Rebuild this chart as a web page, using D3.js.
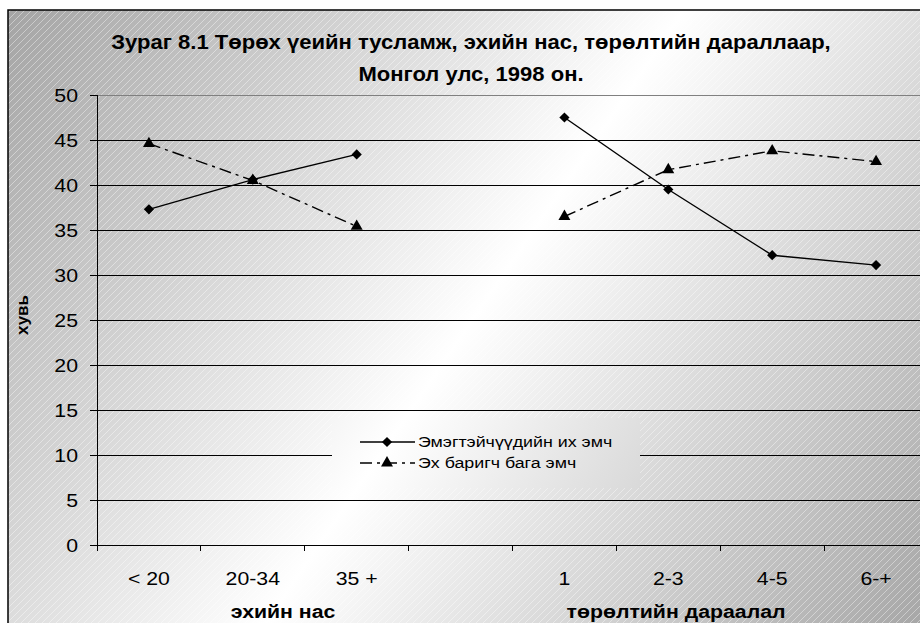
<!DOCTYPE html>
<html lang="mn">
<head>
<meta charset="UTF-8">
<title>Зураг 8.1</title>
<script src="https://cdnjs.cloudflare.com/ajax/libs/d3/7.8.5/d3.min.js"></script>
<style>
  body { margin: 0; background: #fff; }
  svg { display: block; font-family: Arial, "Liberation Sans", sans-serif; }
</style>
</head>
<body>
<div id="chart"></div>
<script>
// categories on the x axis ("" is the empty gap between the two groups)
const categories = ["< 20", "20-34", "35 +", "", "1", "2-3", "4-5", "6-+"];
// percentage values per category, null = no point
const specialistValues = [37.3, 40.6, 43.4, null, 47.5, 39.5, 32.2, 31.1];
const midwifeValues    = [44.6, 40.5, 35.4, null, 36.5, 41.7, 43.8, 42.6];
const seriesNames = ["Эмэгтэйчүүдийн их эмч", "Эх баригч бага эмч"];
const yTicks = [0, 5, 10, 15, 20, 25, 30, 35, 40, 45, 50];
const groupTitles = ["эхийн нас", "төрөлтийн дараалал"];
const titleLines = ["Зураг 8.1 Төрөх үеийн тусламж, эхийн нас, төрөлтийн дараллаар,",
                    "Монгол улс, 1998 он."];
const yTitle = "хувь";

const W = 920, H = 623;
const plot = { left: 97, right: 928, top: 95, bottom: 545 };
const sx = 1.12; // text in the picture is a little wider than the font

const svg = d3.select("#chart").append("svg")
    .attr("width", W).attr("height", H);

const defs = svg.append("defs");
const grad = defs.append("linearGradient")
    .attr("id", "bg")
    .attr("gradientUnits", "userSpaceOnUse")
    .attr("x1", 8).attr("y1", 10).attr("x2", 930).attr("y2", 640);
grad.append("stop").attr("offset", "0").attr("stop-color", "#a4a4a4");
grad.append("stop").attr("offset", "0.5").attr("stop-color", "#ffffff");
grad.append("stop").attr("offset", "1").attr("stop-color", "#a4a4a4");

const hatch = defs.append("pattern")
    .attr("id", "hatch")
    .attr("patternUnits", "userSpaceOnUse")
    .attr("width", 7).attr("height", 7);
hatch.append("path")
    .attr("d", "M-1,1 L1,-1 M0,7 L7,0 M6,8 L8,6")
    .attr("stroke", "#ffffff").attr("stroke-opacity", 0.4).attr("stroke-width", 1);

// chart frame
svg.append("rect")
    .attr("x", 8).attr("y", 10).attr("width", 930).attr("height", 640)
    .attr("fill", "url(#bg)");
svg.append("rect")
    .attr("x", 8).attr("y", 10).attr("width", 930).attr("height", 640)
    .attr("fill", "url(#hatch)")
    .attr("stroke", "#000").attr("stroke-width", 1.5);

const x = d3.scaleBand().domain(categories).range([plot.left, plot.right]);
const y = d3.scaleLinear().domain([0, 50]).range([plot.bottom, plot.top]);
const cx = c => x(c) + x.bandwidth() / 2;

function label(g, tx, ty, text, k = sx) {
    return g.append("text")
        .attr("transform", `translate(${tx},${ty}) scale(${k},1)`)
        .text(text);
}

// gridlines
svg.append("g").selectAll("line")
    .data(yTicks.filter(d => d > 0))
    .join("line")
    .attr("x1", plot.left).attr("x2", plot.right)
    .attr("y1", d => y(d)).attr("y2", d => y(d))
    .attr("stroke", d => d === 50 ? "#808080" : "#000")
    .attr("stroke-width", 1)
    .attr("shape-rendering", "crispEdges");

// y axis
const yAxis = svg.append("g")
    .attr("transform", `translate(${plot.left},0)`)
    .call(d3.axisLeft(y).tickValues(yTicks).tickSize(7).tickFormat(""));
yAxis.selectAll("path, line").attr("stroke", "#000").attr("shape-rendering", "crispEdges");
const yLabels = svg.append("g")
    .attr("font-size", 19).attr("text-anchor", "end").attr("fill", "#000");
yTicks.forEach(t => label(yLabels, 78, y(t) + 6.8, t));

// x axis: line and ticks at the category boundaries
const xAxis = svg.append("g");
xAxis.append("line")
    .attr("x1", plot.left).attr("x2", plot.right)
    .attr("y1", plot.bottom).attr("y2", plot.bottom)
    .attr("stroke", "#000").attr("shape-rendering", "crispEdges");
xAxis.selectAll(".tick")
    .data(categories.map(c => x(c)))
    .join("line")
    .attr("class", "tick")
    .attr("x1", d => d).attr("x2", d => d)
    .attr("y1", plot.bottom).attr("y2", plot.bottom + 6)
    .attr("stroke", "#000").attr("shape-rendering", "crispEdges");
const xLabels = svg.append("g")
    .attr("font-size", 19).attr("text-anchor", "middle").attr("fill", "#000");
categories.forEach(c => { if (c) label(xLabels, cx(c), 585, c); });

// group titles
const gt = svg.append("g")
    .attr("font-size", 19).attr("font-weight", "bold").attr("text-anchor", "middle");
label(gt, 283, 618, groupTitles[0]);
label(gt, 676, 618, groupTitles[1]);

// y title
svg.append("text")
    .attr("transform", "translate(28,315) rotate(-90)")
    .attr("font-size", 17).attr("font-weight", "bold").attr("text-anchor", "middle")
    .text(yTitle);

// title
const tt = svg.append("g")
    .attr("font-size", 19.5).attr("font-weight", "bold").attr("text-anchor", "middle");
label(tt, 471, 49, titleLines[0], 1.13);
label(tt, 471, 81, titleLines[1], 1.13);

// series
const line = d3.line()
    .defined(d => d.v != null)
    .x(d => cx(d.c))
    .y(d => y(d.v));

const series = [
    { name: seriesNames[0], values: specialistValues, dash: null, symbol: d3.symbolSquare, size: 52, rot: 45 },
    { name: seriesNames[1], values: midwifeValues, dash: "12,5,3,5", symbol: d3.symbolTriangle, size: 62, rot: 0 }
];

series.forEach(s => {
    const pts = categories.map((c, i) => ({ c, v: s.values[i] }));
    svg.append("path")
        .datum(pts)
        .attr("fill", "none")
        .attr("stroke", "#000")
        .attr("stroke-width", 1.4)
        .attr("stroke-dasharray", s.dash)
        .attr("d", line);
    svg.append("g").selectAll("path")
        .data(pts.filter(d => d.v != null))
        .join("path")
        .attr("transform", d => `translate(${cx(d.c)},${y(d.v)}) rotate(${s.rot})`)
        .attr("d", d3.symbol().type(s.symbol).size(s.size))
        .attr("fill", "#000");
});

// legend
const lg = svg.append("g");
lg.append("rect")
    .attr("x", 332).attr("y", 418).attr("width", 308).attr("height", 70)
    .attr("fill", "url(#bg)");
series.forEach((s, i) => {
    const ly = 442 + i * 21;
    lg.append("line")
        .attr("x1", 360).attr("x2", 415).attr("y1", ly).attr("y2", ly)
        .attr("stroke", "#000").attr("stroke-width", 1.4)
        .attr("stroke-dasharray", s.dash);
    lg.append("path")
        .attr("transform", `translate(387,${ly}) rotate(${s.rot})`)
        .attr("d", d3.symbol().type(s.symbol).size(s.size))
        .attr("fill", "#000");
    lg.append("text")
        .attr("transform", `translate(418,${ly + 5}) scale(1.15,1)`)
        .attr("font-size", 15.5)
        .text(s.name);
});
</script>
</body>
</html>
